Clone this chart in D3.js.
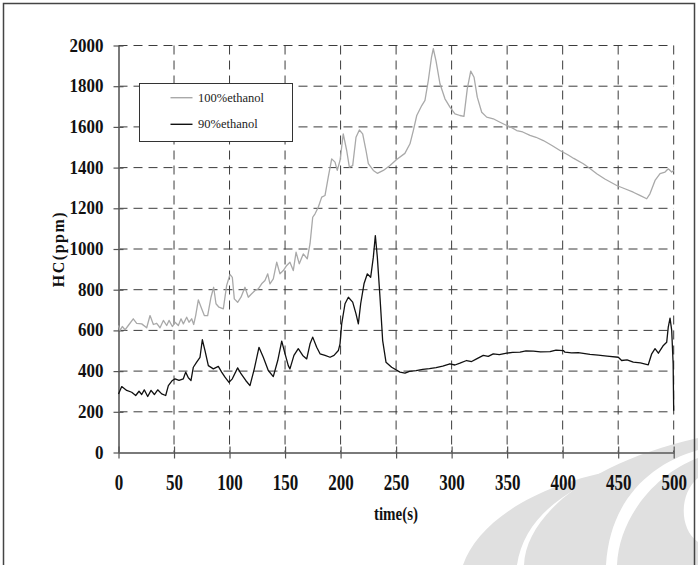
<!DOCTYPE html>
<html>
<head>
<meta charset="utf-8">
<script src="https://cdnjs.cloudflare.com/ajax/libs/d3/7.8.5/d3.min.js"></script>
<style>
body{margin:0;background:#fff;}
svg text{font-family:"Liberation Serif","Times New Roman",serif;}
</style>
</head>
<body>
<svg id="chart" width="698" height="565"></svg>
<script>
// [time (s), HC (ppm)]
var ethanol100 = [
	[0,624],[1.4,600],[3.4,619],[5.9,603],[8.8,624],[13.3,657],[16.4,635],[20.9,632],[25.4,613],[28.4,673],
	[31.4,629],[34.4,635],[37.4,613],[40.4,649],[43.4,624],[45.5,649],[48.5,619],[50.9,640],[53.9,624],[56.3,657],
	[58.4,632],[61.4,665],[63.5,640],[65.9,657],[67.7,629],[69.5,673],[71.9,750],[74.9,706],[77.3,673],[80.3,673],
	[83.3,763],[85.7,812],[87.8,731],[90.5,714],[94.4,706],[97.4,821],[100.4,875],[102.5,861],[104.3,755],[107.3,738],
	[110.3,763],[113.9,812],[116.9,763],[119.9,780],[123,796],[125.9,804],[128.9,829],[131.9,845],[134.4,878],[136.4,829],
	[139.4,853],[142.5,935],[145.4,878],[148.4,894],[151.5,919],[154.4,935],[157.4,894],[159.9,984],[162.8,927],[166.4,976],
	[170,952],[172.5,1026],[174.9,1156],[177,1173],[179.9,1205],[183,1255],[186,1263],[188.9,1353],[192,1443],[195,1427],
	[197,1386],[199.5,1435],[202.4,1566],[205.5,1484],[207.9,1402],[210.9,1410],[213.9,1549],[216.9,1585],[219.9,1566],[222.9,1484],
	[225,1419],[229.5,1386],[233.1,1372],[238.5,1386],[244.5,1410],[250.5,1440],[257.9,1470],[262.5,1517],[265.5,1582],[268.6,1656],
	[273.1,1705],[276,1730],[279,1828],[281.9,1943],[283.5,1984],[285.9,1926],[289.5,1812],[294,1738],[298.5,1697],[303,1664],
	[307.5,1656],[311.1,1652],[314.1,1787],[317.2,1874],[320.2,1844],[323.1,1746],[327.1,1672],[331.6,1648],[337.5,1640],[343.6,1623],
	[349.6,1607],[353,1600],[358.6,1582],[364,1575],[370.6,1558],[376,1549],[382.6,1533],[390,1510],[397.6,1484],[405,1462],
	[410,1445],[418.6,1419],[424,1398],[430.7,1370],[438,1344],[448.7,1312],[456,1296],[463.6,1279],[470,1262],[475.7,1247],
	[478.6,1271],[483.2,1337],[487.7,1370],[492.2,1378],[495.1,1394],[498.2,1378],[500,1386]
];

var ethanol90 = [
	[0,288],[2.9,324],[7.4,305],[11.9,296],[15.5,280],[18.5,301],[20.9,285],[23.2,308],[26.3,275],[29.3,305],
	[32.3,285],[35.3,308],[38.9,288],[42.5,280],[44.9,329],[48.5,354],[50.9,362],[54.5,354],[58.4,362],[60.5,395],
	[62.9,367],[65.3,354],[67.4,419],[70.4,444],[73.4,468],[75.5,554],[77.9,501],[80.9,427],[85.4,411],[89.9,423],
	[92.9,395],[95.9,370],[99.5,345],[102.5,362],[107.3,416],[110.3,387],[114.6,354],[118.4,329],[122.3,411],[126.5,517],
	[130.4,468],[134.9,403],[139.4,373],[143.4,452],[147,547],[150,485],[152.9,427],[154.4,411],[158,477],[161.9,510],
	[165.9,477],[169.5,460],[172.5,534],[174.9,567],[178.5,517],[181.5,485],[186,477],[190.5,468],[194.1,477],[198,501],
	[199.5,534],[201,632],[204,731],[207,763],[210.9,739],[213.9,681],[216,632],[218.1,731],[221.1,829],[224.1,878],
	[227.1,861],[229.5,960],[231.3,1066],[233.1,960],[235.5,763],[237.9,550],[240.9,444],[246,419],[253.5,395],[258,390],
	[262,399],[268,402],[274,408],[280,412],[286,417],[292,424],[298.5,436],[303,430],[307.5,439],[313.5,452],
	[318,447],[322.5,460],[328.5,477],[333,472],[337.5,485],[343,481],[349.6,488],[355,492],[361.6,493],[367,499],
	[373.6,498],[380,494],[388.6,496],[394,503],[400.6,501],[402.1,493],[408,490],[414,491],[424.6,482],[432,478],
	[440,474],[450.1,468],[453.1,452],[458,455],[463.6,444],[470,440],[477.1,431],[480.2,485],[483.2,510],[486.2,488],
	[490.7,526],[493.7,542],[495.1,616],[496.7,660],[498.2,600],[499.5,436],[500,205]
];

var seriesNames = ["100%ethanol", "90%ethanol"];
var seriesColors = ["#a9a9a9", "#111111"];
var xTicks = [0, 50, 100, 150, 200, 250, 300, 350, 400, 450, 500];
var yTicks = [0, 200, 400, 600, 800, 1000, 1200, 1400, 1600, 1800, 2000];

var svg = d3.select("#chart");

var x = d3.scaleLinear().domain([0, 500]).range([118.5, 673.7]);
var y = d3.scaleLinear().domain([0, 2000]).range([452.5, 45.5]);

//watermark shapes in the corner
var wm = svg.append("g").attr("fill", "#e0e0e0");
wm.append("path").attr("d", "M463,565 C478,522 535,484 622,469 C565,488 524,518 517,565 Z");
wm.append("path").attr("d", "M524,565 C526,515 590,462 698,438 L698,450 C650,464 610,500 606,565 Z");
wm.append("path").attr("d", "M617,565 C619,518 655,474 698,458 L698,478 C680,492 678,528 698,542 L698,565 Z");

//outer frame
svg.append("rect")
	.attr("x", 3.5).attr("y", 3.5)
	.attr("width", 691).attr("height", 600)
	.attr("fill", "none")
	.attr("stroke", "#444")
	.attr("stroke-width", 1.5);

//dashed grid
var grid = svg.append("g")
	.attr("stroke", "#3c3c3c")
	.attr("stroke-width", 1)
	.attr("stroke-dasharray", "9,6");

grid.selectAll(".hgrid")
	.data(yTicks.filter(function(d){ return d > 0; }))
	.enter().append("line")
	.attr("x1", x(0)).attr("x2", x(500))
	.attr("y1", function(d){ return y(d); })
	.attr("y2", function(d){ return y(d); });

grid.selectAll(".vgrid")
	.data(xTicks.filter(function(d){ return d > 0; }))
	.enter().append("line")
	.attr("y1", y(2000)).attr("y2", y(0))
	.attr("x1", function(d){ return x(d); })
	.attr("x2", function(d){ return x(d); });

//axes
var yAxis = svg.append("g")
	.attr("transform", "translate(" + x(0) + ",0)")
	.call(d3.axisLeft(y).tickValues(yTicks).tickFormat(d3.format("d")).tickSizeInner(5).tickSizeOuter(0).tickPadding(10));

var xAxis = svg.append("g")
	.attr("transform", "translate(0," + y(0) + ")")
	.call(d3.axisBottom(x).tickValues(xTicks).tickFormat(d3.format("d")).tickSizeInner(6).tickSizeOuter(0).tickPadding(16));

[yAxis, xAxis].forEach(function(ax){
	ax.select(".domain").attr("stroke", "#7a7a7a").attr("stroke-width", 2);
	ax.selectAll(".tick line").attr("stroke", "#555").attr("stroke-width", 1.2);
	ax.selectAll(".tick text")
		.attr("font-family", "'Liberation Serif', serif")
		.attr("font-size", 17)
		.attr("font-weight", "bold")
		.attr("fill", "#111");
});
yAxis.selectAll(".tick line").attr("x1", 5);
xAxis.selectAll(".tick line").attr("y1", -6);

// labels look stretched tall in the source
yAxis.selectAll(".tick text")
	.attr("dy", null)
	.attr("y", 5.5 / 1.12)
	.attr("transform", "scale(1,1.12)");
xAxis.selectAll(".tick text")
	.attr("dy", null)
	.attr("y", 38 / 1.35)
	.attr("transform", "scale(1,1.35)");

//axis titles
svg.append("text")
	.attr("transform", "translate(64,249) rotate(-90)")
	.attr("text-anchor", "middle")
	.attr("font-size", 16)
	.attr("font-weight", "bold")
	.attr("letter-spacing", 1.5)
	.attr("fill", "#111")
	.text("HC(ppm)");

svg.append("text")
	.attr("transform", "translate(396,520) scale(1,1.2)")
	.attr("text-anchor", "middle")
	.attr("font-size", 15)
	.attr("font-weight", "bold")
	.attr("fill", "#111")
	.text("time(s)");

//lines
var line = d3.line()
	.x(function(d){ return x(d[0]); })
	.y(function(d){ return y(d[1]); });

[ethanol100, ethanol90].forEach(function(s, i){
	svg.append("path")
		.datum(s)
		.attr("d", line)
		.attr("fill", "none")
		.attr("stroke", seriesColors[i])
		.attr("stroke-width", 1.3)
		.attr("stroke-linejoin", "round");
});

//legend
var legend = svg.append("g");
legend.append("rect")
	.attr("x", 139.5).attr("y", 83.5)
	.attr("width", 153).attr("height", 58)
	.attr("fill", "#fff")
	.attr("stroke", "#333")
	.attr("stroke-width", 1);

seriesNames.forEach(function(name, i){
	var ly = 97.7 + i * 26.6;
	legend.append("line")
		.attr("x1", 170.5).attr("x2", 192.5)
		.attr("y1", ly).attr("y2", ly)
		.attr("stroke", seriesColors[i])
		.attr("stroke-width", 1.4);
	legend.append("text")
		.attr("x", 198).attr("y", ly + 4)
		.attr("font-size", 12.5)
		.attr("fill", "#222")
		.text(name);
});
</script>
</body>
</html>
